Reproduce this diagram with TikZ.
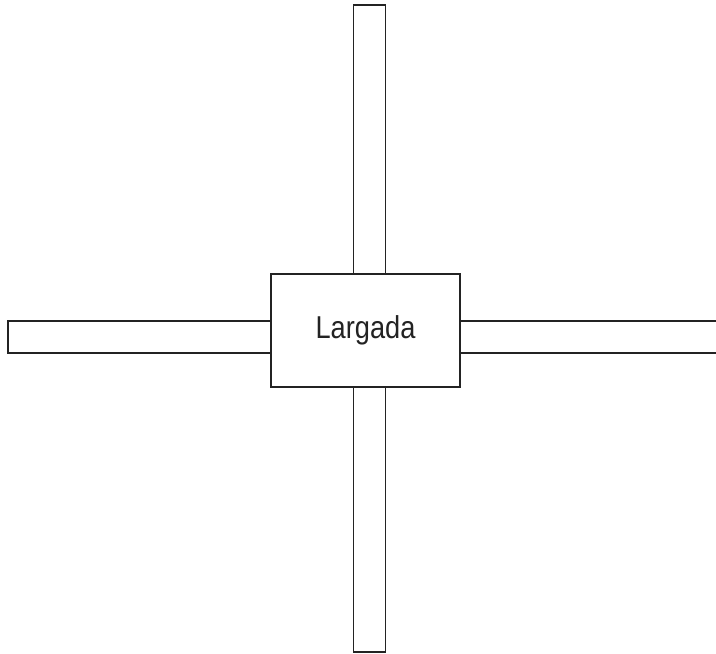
\documentclass[tikz,border=0pt]{standalone}
\usepackage{fontspec}
\setmainfont{Liberation Sans}[FakeStretch=0.86]
\usetikzlibrary{positioning}
\definecolor{edge}{RGB}{35,35,35}
\tikzset{
  % Arm of the cross (bar)
  armbar/.style={
    rectangle, draw=edge, fill=white, line width=1.1pt,
    inner sep=0pt
  },
  % Central box
  hubbox/.style={
    rectangle, draw=edge, fill=white, line width=1.1pt,
    minimum width=3.78cm, minimum height=2.26cm,
    font=\fontsize{18}{20}\selectfont, text=edge, inner sep=0pt
  },
}
\begin{document}
\begin{tikzpicture}[x=0.02cm, y=-0.02cm]
\useasboundingbox (0,0) rectangle (716,653);
\clip (0,0) rectangle (716,653);

%% ── ARMS (ends tucked under the box) ─────────────────────────────────────

\node[armbar, minimum width=0.64cm, minimum height=5.56cm, anchor=south] (armnorth) at (369.5,284) {};
\node[armbar, minimum width=0.64cm, minimum height=5.48cm, anchor=north] (armsouth) at (369.5,377) {};
\node[armbar, minimum width=5.44cm, minimum height=0.64cm, anchor=east]  (armwest)  at (281,337) {};
\node[armbar, minimum width=5.50cm, minimum height=0.64cm, anchor=west]  (armeast)  at (450,337) {};

%% ── CENTRE ───────────────────────────────────────────────────────────────

\node[hubbox] (start) at (365.5,330.5) {Largada};

\end{tikzpicture}
\end{document}
